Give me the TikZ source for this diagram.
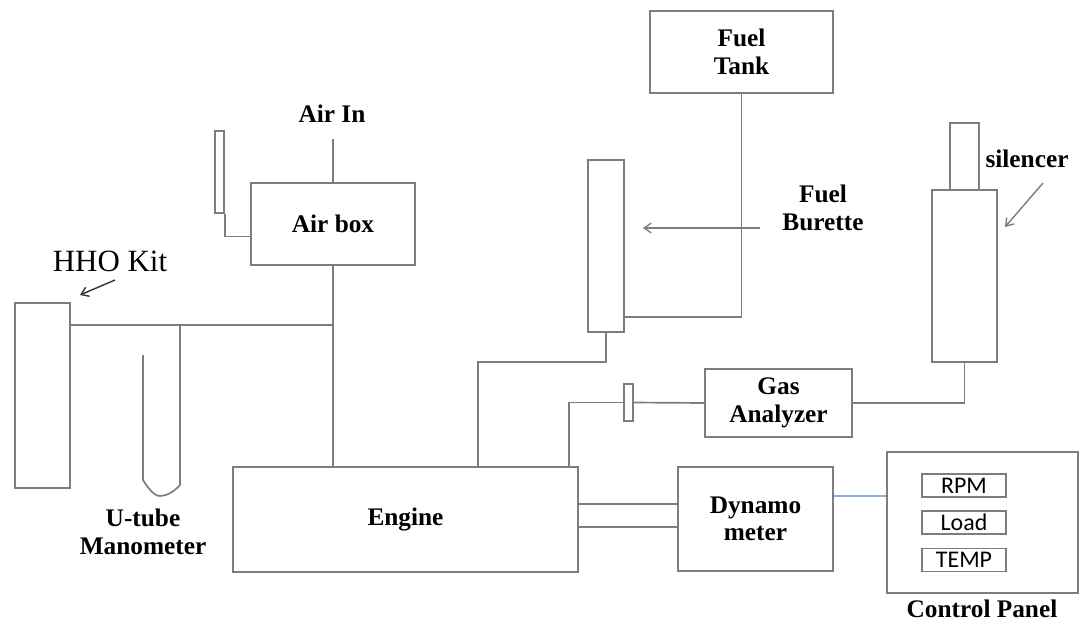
\documentclass[tikz,border=0pt]{standalone}
\usepackage{fontspec}
\setmainfont{Liberation Serif}
\newfontfamily\panelfont{Carlito}
\usetikzlibrary{arrows.meta,calc}
\definecolor{pipegray}{RGB}{125,125,125}
\definecolor{wireblue}{RGB}{140,175,220}

\begin{document}
\begin{tikzpicture}[x=0.025cm, y=-0.025cm, every node/.style={font=\bfseries\fontsize{18}{19.5}\selectfont}]
\tikzset{unit/.style 2 args={draw=pipegray, line width=1.2pt, inner sep=0pt, align=center, minimum width=#1*0.025cm, minimum height=#2*0.025cm}}
\tikzset{meter/.style={draw=pipegray, line width=1.2pt, inner sep=0pt, minimum width=84*0.025cm, minimum height=23*0.025cm, font=\panelfont\fontsize{17}{17}\selectfont}}
\tikzset{pipe/.style={draw=pipegray, line width=1.2pt}}
\tikzset{pointer/.style={-{Straight Barb[length=5pt,width=7pt]}, line width=1pt}}
\useasboundingbox (0,0) rectangle (1084,624);
% intake side
\node[unit={55}{185}] (hho) at (42.5,395.5) {};
\node[font=\fontsize{22}{24}\selectfont] (hholbl) at (110,261) {HHO Kit};
\node[unit={9}{82}] (valve) at (219.5,172) {};
\node[unit={164}{82}] (airbox) at (333,224) {Air box};
\node (airin) at (332,114) {Air In};
\coordinate (airtop) at (333,139);
\coordinate (j1) at (333,325);
\coordinate (ut) at (180,325);
\node[align=center] (utlbl) at (143,532) {U-tube\\Manometer};
% engine and load
\node[unit={345}{105}] (engine) at (405.5,519.5) {Engine};
\node[unit={155}{104}] (dyno) at (755.5,519) {Dynamo\\meter};
\node[unit={191}{141}] (panel) at (982.5,522.5) {};
\node[meter] (rpm) at (964,485.5) {RPM};
\node[meter] (load) at (964,522.5) {Load};
\node[meter] (temp) at (964,560) {TEMP};
\node (panlbl) at (982,609) {Control Panel};
% fuel side
\node[unit={183}{82}] (tank) at (741.5,52) {Fuel\\Tank};
\node[unit={36}{172}] (burette) at (606,246) {};
\node[align=center] (burlbl) at (823,208) {Fuel\\Burette};
\coordinate (bj) at (478,362);
% exhaust side
\node[unit={147}{68}] (gas) at (778.5,403) {Gas\\Analyzer};
\node[unit={9}{37}] (probe) at (628.5,402.5) {};
\coordinate (ej) at (569,402.5);
\node[unit={65}{172}] (silencer) at (964.5,276) {};
\node[unit={29}{67}] (tailpipe) at (964.5,156.5) {};
\node (sillbl) at (1027,159) {silencer};
% arrow ends
\coordinate (hhoarr) at (115,280); \coordinate (hhotip) at (80,295);
\coordinate (burarr) at (760,228); \coordinate (burtip) at (643,228);
\coordinate (silarr) at (1043,183); \coordinate (siltip) at (1005,227);

\draw[pipe] (airtop) -- (airbox.north);
\draw[pipe] (valve.south east) |- ($(airbox.south west)!0.35!(airbox.north west)$);
\draw[pipe] (airbox.south) -- (airbox.south |- engine.north);
\draw[pipe] (hho.east |- j1) -- (j1);
\draw[pipe] (ut) -- (180,485) .. controls (174,492) and (166,496) .. (160,496) .. controls (154,496) and (148,488) .. (143,480) -- (143,355);
\draw[pipe] (tank.south) |- (burette.east |- 0,317);
\draw[pipe] (burette.south) |- (bj) -- (bj |- engine.north);
\draw[pipe] (ej |- engine.north) -- (ej) -- (probe.west);
\draw[pipe] (probe.east) -- (gas.west);
\draw[pipe] (gas.east) -| (silencer.south);
\draw[pipe] (engine.east |- 0,504) -- (dyno.west |- 0,504);
\draw[pipe] (engine.east |- 0,527) -- (dyno.west |- 0,527);
\draw[wireblue, line width=0.8pt] (dyno.east |- 0,496) -- (panel.west |- 0,496);
\draw[pointer, black!80] (hhoarr) -- (hhotip);
\draw[pointer, pipegray] (burarr) -- (burtip);
\draw[pointer, pipegray] (silarr) -- (siltip);
\end{tikzpicture}
\end{document}
